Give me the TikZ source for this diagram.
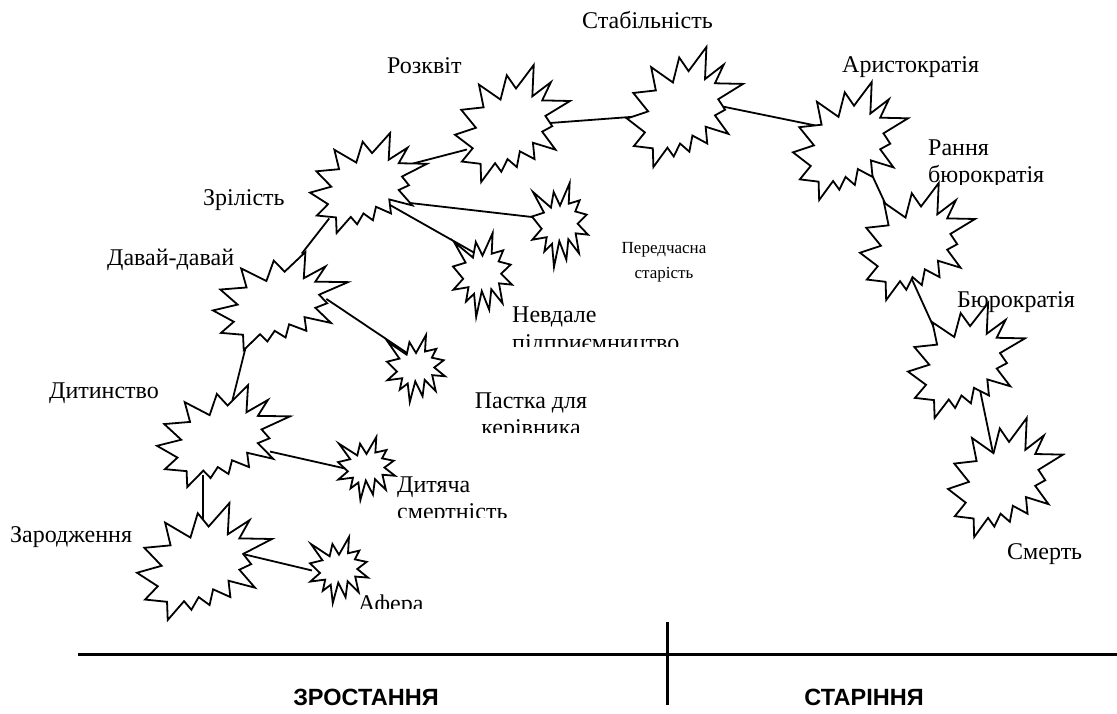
\documentclass[tikz,border=0pt]{standalone}
\usepackage{fontspec}
\setmainfont{Liberation Serif}
\newfontfamily\headfont{Liberation Sans}
\usetikzlibrary{calc}
\pgfdeclarelayer{background}
\pgfsetlayers{background,main}
\tikzset{
  sealline/.style={line width=1.8pt, fill=white, line join=miter, miter limit=20},
  bigseal/.pic={\draw[sealline] (0.0306,-0.2990) -- (0.1847,-0.5) -- (0.1725,-0.2325) -- (0.3337,-0.3531) -- (0.2583,-0.1976) -- (0.5,-0.1924) -- (0.2863,-0.0647) -- (0.3458,0.0227) -- (0.2583,0.0699) -- (0.3739,0.2237) -- (0.1778,0.1644) -- (0.1918,0.3042) -- (0.0639,0.2377) -- (0.0376,0.3723) -- (-0.0430,0.3042) -- (-0.0972,0.4126) -- (-0.1515,0.3391) -- (-0.2724,0.5) -- (-0.2775,0.3444) -- (-0.4405,0.3252) -- (-0.3458,0.2116) -- (-0.5,0.0962) -- (-0.3178,0.0367) -- (-0.4457,-0.1171) -- (-0.2513,-0.1381) -- (-0.2916,-0.3322) -- (-0.1042,-0.2045) -- (-0.0499,-0.4126) -- cycle;},
  smallseal/.pic={\draw[sealline] (0,-0.2315) -- (0.1723,-0.5) -- (0.1553,-0.2535) -- (0.3509,-0.2937) -- (0.2732,-0.1613) -- (0.4767,-0.1233) -- (0.3151,-0.0150) -- (0.5,0.1153) -- (0.2795,0.0992) -- (0.3400,0.3377) -- (0.1491,0.1693) -- (0.1133,0.4137) -- (-0.0124,0.1914) -- (-0.1072,0.5) -- (-0.1428,0.2235) -- (-0.2795,0.3156) -- (-0.2376,0.1452) -- (-0.4937,0.1753) -- (-0.3277,0.0451) -- (-0.5,-0.1012) -- (-0.2858,-0.1474) -- (-0.4829,-0.3937) -- (-0.1615,-0.2074) -- (-0.1133,-0.3937) -- cycle;},
  spot/.style={draw=none, inner sep=0pt, shape=rectangle},
  link/.style={line width=1.8pt, shorten <=-2pt, shorten >=-2pt},
  lbl/.style={inner sep=0pt, font=\fontsize{24}{28}\selectfont},
  smlbl/.style={inner sep=0pt, font=\fontsize{17}{21}\selectfont},
  headlbl/.style={inner sep=0pt, font=\headfont\bfseries\fontsize{23.5}{28}\selectfont},
  rule/.style={line width=3pt}
}
\newcommand\mkseal[6]{%
  \node[spot, minimum width=#4pt, minimum height=#5pt] (#1) at (#2,#3) {};
  \pic[xscale=#4, yscale=#5] at (#1.center) {#6};}
\begin{document}
\begin{tikzpicture}[x=1pt, y=-1pt]
\useasboundingbox (0,0) rectangle (1117,713);
% starbursts
\mkseal{zar}{204.5}{561.5}{135}{117}{bigseal}
\mkseal{dyt}{223.5}{436}{133}{102}{bigseal}
\mkseal{dav}{280.5}{301}{135}{98}{bigseal}
\mkseal{zri}{368.5}{183}{117}{100}{bigseal}
\mkseal{roz}{512.5}{123.5}{115}{117}{bigseal}
\mkseal{sta}{685}{107}{116}{120}{bigseal}
\mkseal{ari}{850.5}{141}{115}{118}{bigseal}
\mkseal{ran}{917.5}{241.5}{115}{117}{bigseal}
\mkseal{bur}{966.5}{360.5}{117}{115}{bigseal}
\mkseal{sme}{1005.5}{477.5}{115}{119}{bigseal}
\mkseal{afe}{339}{570}{58}{66}{smallseal}
\mkseal{dsm}{366.5}{468.5}{57}{63}{smallseal}
\mkseal{pas}{416}{368.5}{58}{67}{smallseal}
\mkseal{nev}{482.5}{275}{59}{84}{smallseal}
\mkseal{per}{560}{225}{56}{84}{smallseal}
% connectors
\begin{pgfonlayer}{background}
\draw[link] ($(zar.center)+(42.5,-6.5)$) -- ($(afe.center)+(-29,0)$);
\draw[link] ($(zar.center)+(-1.5,-36.5)$) -- ($(dyt.center)+(-20.5,41)$);
\draw[link] ($(dyt.center)+(48.5,16)$) -- ($(dsm.center)+(-23.5,-0.5)$);
\draw[link] ($(dyt.center)+(9.5,-38)$) -- ($(dav.center)+(-35.5,49)$);
\draw[link] ($(dav.center)+(47.5,-1)$) -- ($(pas.center)+(-9,-15.5)$);
\draw[link] ($(dav.center)+(22.5,-49)$) -- ($(zri.center)+(-40.5,37)$);
\draw[link] ($(zri.center)+(46.5,-20)$) -- ($(roz.center)+(-47.5,26.5)$);
\draw[link] ($(zri.center)+(41.5,20)$) -- ($(per.center)+(-28,-8)$);
\draw[link] ($(zri.center)+(21.5,22)$) -- ($(nev.center)+(-9.5,-23)$);
\draw[link] ($(roz.center)+(37.5,-0.5)$) -- ($(sta.center)+(-55,10)$);
\draw[link] ($(sta.center)+(40,0)$) -- ($(ari.center)+(-37.5,-16)$);
\draw[link] ($(ari.center)+(21.5,34)$) -- ($(ran.center)+(-32.5,-38.5)$);
\draw[link] ($(ran.center)+(-7.5,33.5)$) -- ($(bur.center)+(-31.5,-30.5)$);
\draw[link] ($(bur.center)+(13.5,29.5)$) -- ($(sme.center)+(-12.5,-24.5)$);
\end{pgfonlayer}
% labels
\node[lbl, anchor=base west] (tsta) at (582,28) {Стабільність};
\node[lbl, anchor=base west] (troz) at (387,73) {Розквіт};
\node[lbl, anchor=base west] (tari) at (842,72) {Аристократія};
\node[lbl, anchor=base west] (tran) at (928,155) {Рання};
\begin{scope}
\clip (900,150) rectangle (1117,184);
\node[lbl, anchor=base west] (tran2) at (928,182) {бюрократія};
\end{scope}
\node[lbl, anchor=base west] (tbur) at (957,307) {Бюрократія};
\node[lbl, anchor=base west] (tsme) at (1007,559) {Смерть};
\node[lbl, anchor=base west] (tzri) at (203,205) {Зрілість};
\node[lbl, anchor=base west] (tdav) at (107,265) {Давай-давай};
\node[lbl, anchor=base west] (tdyt) at (49,398) {Дитинство};
\node[lbl, anchor=base west] (tdsm) at (397,492) {Дитяча};
\begin{scope}
\clip (380,495) rectangle (560,517);
\node[lbl, anchor=base west] (tdsm2) at (397,519) {смертність};
\end{scope}
\node[lbl, anchor=base west] (tzar) at (10,542) {Зародження};
\begin{scope}
\clip (350,580) rectangle (450,608);
\node[lbl, anchor=base west] (tafe) at (358,611) {Афера};
\end{scope}
\node[lbl, anchor=base west] (tnev) at (512,322) {Невдале};
\begin{scope}
\clip (500,326) rectangle (720,346);
\node[lbl, anchor=base west] (tnev2) at (512,350) {підприємництво};
\end{scope}
\node[lbl, anchor=base] (tpas) at (531,408) {Пастка для};
\begin{scope}
\clip (460,412) rectangle (620,432);
\node[lbl, anchor=base] (tpas2) at (531,435) {керівника};
\end{scope}
\node[smlbl, anchor=base] (tper) at (664,253) {Передчасна};
\node[smlbl, anchor=base] (tper2) at (664,278) {старість};
% bottom axis
\coordinate (axl) at (78,654);
\coordinate (axr) at (1117,654);
\coordinate (axt) at (667,622);
\coordinate (axb) at (667,705);
\draw[rule] (axl) -- (axr);
\draw[rule] (axt) -- (axb);
\node[headlbl, anchor=base] (grow) at (366,705) {ЗРОСТАННЯ};
\node[headlbl, anchor=base] (old) at (864,705) {СТАРІННЯ};
\end{tikzpicture}
\end{document}
